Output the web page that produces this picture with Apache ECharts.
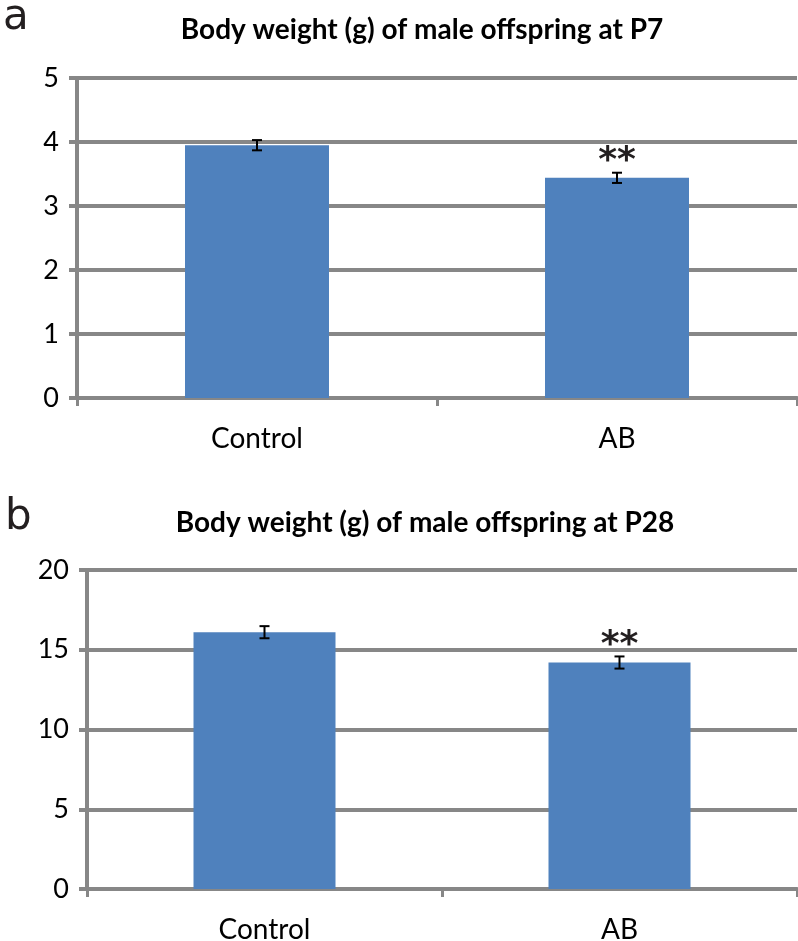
<!DOCTYPE html>
<html><head><meta charset="utf-8">
<script src="https://cdn.jsdelivr.net/npm/echarts@6/dist/echarts.min.js"></script>
<style>html,body{margin:0;padding:0;background:#fff}#c{width:798px;height:941px}</style>
</head><body><div id="c"></div>
<script>
const categories = ['Control', 'AB'];
const p7Values = [3.95, 3.44];
const p7Errors = [0.08, 0.08];
const p28Values = [16.1, 14.2];
const p28Errors = [0.38, 0.38];
const stars = ['', '**'];
const p7Ticks = [0, 1, 2, 3, 4, 5];
const p28Ticks = [0, 5, 10, 15, 20];

const FONT = 'Lato';
const GRAY = '#878787';

function errRender(vals, errs) {
  return function (params, api) {
    const i = api.value(0);
    const v = vals[i], e = errs[i];
    const top = api.coord([i, v + e]);
    const bot = api.coord([i, v - e]);
    const x = top[0], w = 5;
    const style = { stroke: '#000', lineWidth: 2 };
    const children = [
      { type: 'line', shape: { x1: x, y1: top[1], x2: x, y2: bot[1] }, style },
      { type: 'line', shape: { x1: x - w, y1: top[1], x2: x + w, y2: top[1] }, style },
      { type: 'line', shape: { x1: x - w, y1: bot[1], x2: x + w, y2: bot[1] }, style }
    ];
    if (stars[i]) {
      children.push({ type: 'text', style: { x: x, y: top[1] + 7, text: stars[i], fill: '#231f20',
        font: 'bold 36px "DejaVu Sans"', align: 'center', verticalAlign: 'bottom' } });
    }
    return { type: 'group', children };
  };
}

function xAxis(gi) {
  return {
    type: 'category', gridIndex: gi, data: categories,
    axisLine: { lineStyle: { color: GRAY, width: 4 } },
    axisTick: { show: true, length: 8, lineStyle: { color: GRAY, width: 3 }, alignWithLabel: false },
    axisLabel: { color: '#000', fontSize: 28, fontFamily: FONT, margin: 27 }
  };
}
function yAxis(gi, max, interval) {
  return {
    type: 'value', gridIndex: gi, min: 0, max: max, interval: interval,
    axisLine: { show: true, lineStyle: { color: GRAY, width: 4 } },
    axisTick: { show: true, length: 8, lineStyle: { color: GRAY, width: 4 } },
    axisLabel: { color: '#000', fontSize: 27, fontFamily: FONT, margin: 18 },
    splitLine: { lineStyle: { color: GRAY, width: 4 } }
  };
}

const chart = echarts.init(document.getElementById('c'));
chart.setOption({
  animation: false,
  backgroundColor: '#fff',
  title: [
    { text: 'Body weight (g) of male offspring at P7', left: 417, top: 11, textAlign: 'center',
      textStyle: { fontFamily: FONT, fontWeight: 'bold', fontSize: 28, color: '#000' } },
    { text: 'Body weight (g) of male offspring at P28', left: 420, top: 504, textAlign: 'center',
      textStyle: { fontFamily: FONT, fontWeight: 'bold', fontSize: 28, color: '#000' } },
    { text: 'a', left: -2, top: -8, textStyle: { fontFamily: 'DejaVu Sans', fontWeight: 'normal', fontSize: 42, color: '#231f20' } },
    { text: 'b', left: 0, top: 492, textStyle: { fontFamily: 'DejaVu Sans', fontWeight: 'normal', fontSize: 42, color: '#231f20' } }
  ],
  grid: [
    { left: 77, right: 1, top: 78, height: 320, containLabel: false, outerBoundsMode: 'none' },
    { left: 87, right: 1, top: 570, height: 319, containLabel: false, outerBoundsMode: 'none' }
  ],
  xAxis: [xAxis(0), xAxis(1)],
  yAxis: [yAxis(0, p7Ticks[p7Ticks.length - 1], p7Ticks[1] - p7Ticks[0]),
          yAxis(1, p28Ticks[p28Ticks.length - 1], p28Ticks[1] - p28Ticks[0])],
  series: [
    { type: 'bar', xAxisIndex: 0, yAxisIndex: 0, data: p7Values, barWidth: '40%',
      itemStyle: { color: '#4F81BD' }, z: 1 },
    { type: 'custom', xAxisIndex: 0, yAxisIndex: 0, data: categories.map((c, i) => [i]),
      renderItem: errRender(p7Values, p7Errors), z: 5 },
    { type: 'bar', xAxisIndex: 1, yAxisIndex: 1, data: p28Values, barWidth: '40%',
      itemStyle: { color: '#4F81BD' }, z: 1 },
    { type: 'custom', xAxisIndex: 1, yAxisIndex: 1, data: categories.map((c, i) => [i]),
      renderItem: errRender(p28Values, p28Errors), z: 5 }
  ]
});
</script></body></html>
